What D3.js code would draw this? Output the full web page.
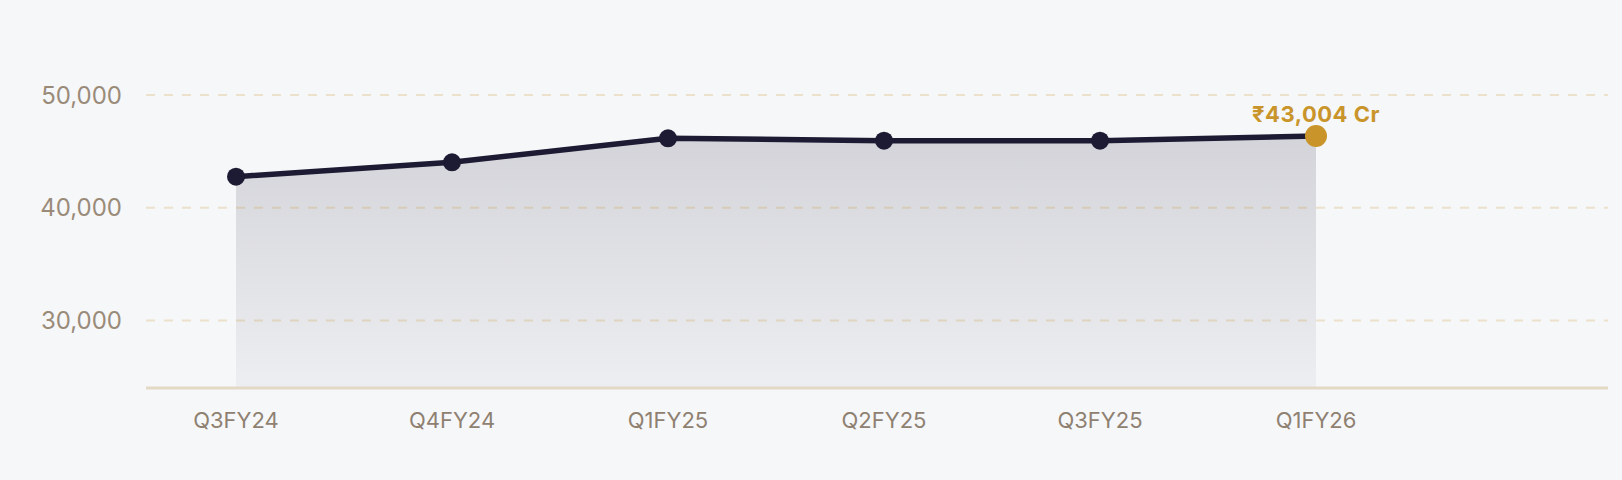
<!DOCTYPE html>
<html>
<head>
<meta charset="utf-8">
<script src="https://cdn.jsdelivr.net/npm/d3@7"></script>
<style>
  html, body { margin: 0; padding: 0; background: #f6f7f9; }
  svg { display: block; }
</style>
</head>
<body>
<svg id="chart" width="1622" height="480"></svg>
<script>
const categories = ["Q3FY24", "Q4FY24", "Q1FY25", "Q2FY25", "Q3FY25", "Q1FY26"];
const values = [42750, 44030, 46160, 45950, 45950, 46360];
const yTicks = [30000, 40000, 50000];
const yTickLabels = ["30,000", "40,000", "50,000"];
const highlightLabel = "₹43,004 Cr";

const W = 1622, H = 480;
const svg = d3.select("#chart");
svg.append("rect").attr("width", W).attr("height", H).attr("fill", "#f6f7f9");

const x = d3.scalePoint().domain(categories).range([236, 1316]);
const y = d3.scaleLinear().domain([24000, 50000]).range([388, 95]);
const gridLeft = 146, gridRight = 1608;

const data = categories.map((c, i) => ({ c, v: values[i] }));

const defs = svg.append("defs");
const grad = defs.append("linearGradient").attr("id", "areaGrad")
  .attr("x1", 0).attr("y1", 0).attr("x2", 0).attr("y2", 1);
grad.append("stop").attr("offset", "0%").attr("stop-color", "#1c1b33").attr("stop-opacity", 0.16);
grad.append("stop").attr("offset", "100%").attr("stop-color", "#1c1b33").attr("stop-opacity", 0.04);

const area = d3.area().x(d => x(d.c)).y0(y(24000)).y1(d => y(d.v));
svg.append("path").datum(data).attr("d", area).attr("fill", "url(#areaGrad)");

svg.append("g")
  .selectAll("line").data(yTicks).join("line")
  .attr("x1", gridLeft).attr("x2", gridRight)
  .attr("y1", d => y(d)).attr("y2", d => y(d))
  .attr("stroke", "rgba(201,149,43,0.22)")
  .attr("stroke-width", 2)
  .attr("stroke-dasharray", "9 9");

svg.append("g")
  .selectAll("text").data(yTicks).join("text")
  .attr("x", 122).attr("y", d => y(d))
  .attr("dy", "0.36em")
  .attr("text-anchor", "end")
  .attr("font-family", "Inter, 'Liberation Sans', sans-serif")
  .attr("font-size", 24)
  .attr("fill", "#9a8b79")
  .text((d, i) => yTickLabels[i]);

svg.append("line")
  .attr("x1", gridLeft).attr("x2", gridRight)
  .attr("y1", y(24000)).attr("y2", y(24000))
  .attr("stroke", "#e3d9c5").attr("stroke-width", 3);

svg.append("g")
  .selectAll("text").data(categories).join("text")
  .attr("x", d => x(d)).attr("y", 428)
  .attr("text-anchor", "middle")
  .attr("font-family", "Inter, 'Liberation Sans', sans-serif")
  .attr("font-size", 22)
  .attr("fill", "#8f8171")
  .text(d => d);

const line = d3.line().x(d => x(d.c)).y(d => y(d.v));
svg.append("path").datum(data).attr("d", line)
  .attr("fill", "none").attr("stroke", "#1c1b33").attr("stroke-width", 5.5)
  .attr("stroke-linejoin", "round");

const last = data[data.length - 1];
svg.append("g").selectAll("circle").data(data.slice(0, -1)).join("circle")
  .attr("cx", d => x(d.c)).attr("cy", d => y(d.v)).attr("r", 9)
  .attr("fill", "#1c1b33");
svg.append("circle").attr("cx", x(last.c)).attr("cy", y(last.v)).attr("r", 11)
  .attr("fill", "#c9952b");

svg.append("text")
  .attr("x", x(last.c)).attr("y", y(last.v) - 14)
  .attr("text-anchor", "middle")
  .attr("font-family", "Inter, 'Noto Sans', sans-serif")
  .attr("font-weight", 700)
  .attr("font-size", 22)
  .attr("letter-spacing", 0.5)
  .attr("fill", "#c9952b")
  .text(highlightLabel);
</script>
</body>
</html>
